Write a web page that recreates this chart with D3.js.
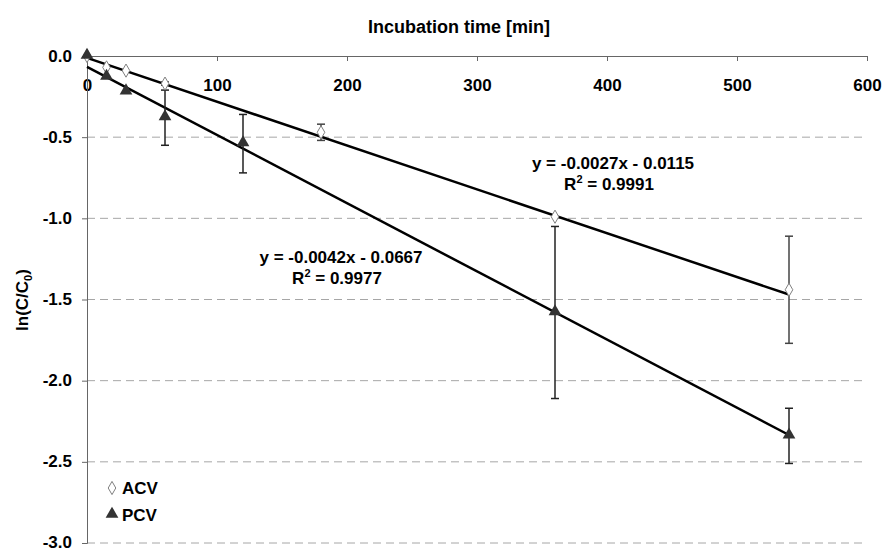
<!DOCTYPE html>
<html>
<head>
<meta charset="utf-8">
<script src="https://cdn.jsdelivr.net/npm/d3@7"></script>
<style>
  body { margin: 0; background: #fff; }
  svg { display: block; }
  text { font-family: "Liberation Sans", Arial, sans-serif; font-weight: bold; }
</style>
</head>
<body>
<div id="chart"></div>
<script>
// data
let xTicks = [0, 100, 200, 300, 400, 500, 600];
let yTicks = [0, -0.5, -1.0, -1.5, -2.0, -2.5, -3.0];

let acvTime = [0, 15, 30, 60, 180, 360, 540];
let acvMean = [0, -0.07, -0.09, -0.17, -0.47, -0.99, -1.44];
let acvErr  = [0, 0, 0, 0.01, 0.05, 0, 0.33];

let pcvTime = [0, 15, 30, 60, 120, 360, 540];
let pcvMean = [0, -0.13, -0.22, -0.38, -0.54, -1.58, -2.34];
let pcvErr  = [0, 0, 0, 0.17, 0.18, 0.53, 0.17];

// trend lines: slope, intercept
let acvFit = [-0.0027, -0.0115];
let pcvFit = [-0.0042, -0.0667];
let acvLabels = ["y = -0.0027x - 0.0115", "0.9991"];
let pcvLabels = ["y = -0.0042x - 0.0667", "0.9977"];

// set the dimensions and margins of the graph
let margin = {top: 56, right: 15, bottom: 8, left: 87},
    width = 882 - margin.left - margin.right,
    height = 551 - margin.top - margin.bottom;

let fs = 17;

let x = d3.scaleLinear().domain([0, 600]).range([0, width]);
let y = d3.scaleLinear().domain([0, -3]).range([0, height]);

let svg = d3.select("#chart").append("svg")
    .attr("width", 882)
    .attr("height", 551)
    .append("g")
    .attr("transform", "translate(" + margin.left + "," + margin.top + ")");

// dashed gridlines
svg.selectAll(".grid")
    .data(yTicks.filter(d => d !== 0))
    .enter().append("line")
    .attr("x1", 0).attr("x2", width)
    .attr("y1", d => y(d)).attr("y2", d => y(d))
    .attr("stroke", "#a6a6a6")
    .attr("stroke-dasharray", "8,5");

// x axis at top (ticks hang down, labels below)
let xAxis = svg.append("g")
    .call(d3.axisBottom(x).tickValues(xTicks).tickSize(5).tickFormat(d3.format("d")));
xAxis.select(".domain").attr("stroke", "#666");
xAxis.selectAll(".tick line").attr("stroke", "#666");
xAxis.selectAll(".tick text")
    .attr("y", 35)
    .attr("dy", null)
    .attr("font-size", fs)
    .attr("fill", "#000");

// y axis
let yAxis = svg.append("g")
    .call(d3.axisLeft(y).tickValues(yTicks).tickSize(5).tickFormat(d => d.toFixed(1)));
yAxis.select(".domain").attr("stroke", "#666");
yAxis.selectAll(".tick line").attr("stroke", "#666");
yAxis.selectAll(".tick text")
    .attr("x", -15)
    .attr("dy", d => d === -3 ? 4 : "0.3em")   // keep the bottom label inside the page
    .attr("font-size", fs)
    .attr("fill", "#000");

// axis titles
d3.select("svg").append("text")
    .attr("x", 459).attr("y", 33)
    .attr("text-anchor", "middle")
    .attr("font-size", 18)
    .text("Incubation time [min]");

let yt = d3.select("svg").append("text")
    .attr("transform", "translate(28,300) rotate(-90)")
    .attr("text-anchor", "middle")
    .attr("font-size", fs);
yt.append("tspan").text("ln(C/C");
yt.append("tspan").attr("font-size", 11).attr("dy", 4).text("0");
yt.append("tspan").attr("dy", -4).text(")");

// trend lines
[acvFit, pcvFit].forEach(function(f) {
    svg.append("line")
        .attr("x1", x(0)).attr("y1", y(f[1]))
        .attr("x2", x(540)).attr("y2", y(f[0] * 540 + f[1]))
        .attr("stroke", "#000")
        .attr("stroke-width", 2.5);
});

// error bars
function errorBars(times, means, errs, color) {
    let pts = times.map((t, i) => ({t: t, m: means[i], e: errs[i]})).filter(d => d.e > 0);
    let g = svg.append("g").attr("stroke", color).attr("stroke-width", 1.5);
    g.selectAll(".eb").data(pts).enter().append("line")
        .attr("x1", d => x(d.t)).attr("x2", d => x(d.t))
        .attr("y1", d => y(d.m + d.e)).attr("y2", d => y(d.m - d.e));
    g.selectAll(".capTop").data(pts).enter().append("line")
        .attr("x1", d => x(d.t) - 4).attr("x2", d => x(d.t) + 4)
        .attr("y1", d => y(d.m + d.e)).attr("y2", d => y(d.m + d.e));
    g.selectAll(".capBot").data(pts).enter().append("line")
        .attr("x1", d => x(d.t) - 4).attr("x2", d => x(d.t) + 4)
        .attr("y1", d => y(d.m - d.e)).attr("y2", d => y(d.m - d.e));
}
errorBars(acvTime, acvMean, acvErr, "#444");
errorBars(pcvTime, pcvMean, pcvErr, "#222");

// markers
let diamond = d3.symbol().type(d3.symbolDiamond).size(50);
let triangle = d3.symbol().type(d3.symbolTriangle).size(70);

svg.selectAll(".acv")
    .data(acvTime)
    .enter().append("path")
    .attr("d", diamond)
    .attr("transform", (d, i) => "translate(" + x(d) + "," + y(acvMean[i]) + ")")
    .attr("fill", "#fff")
    .attr("stroke", "#808080")
    .attr("stroke-width", 1);

svg.selectAll(".pcv")
    .data(pcvTime)
    .enter().append("path")
    .attr("d", triangle)
    .attr("transform", (d, i) => "translate(" + x(d) + "," + (y(pcvMean[i]) - 1) + ")")
    .attr("fill", "#333");

// equations
function eqLabel(lbl, cx, cy) {
    svg.append("text")
        .attr("x", cx).attr("y", cy)
        .attr("text-anchor", "middle")
        .attr("font-size", fs)
        .text(lbl[0]);
    let r = svg.append("text")
        .attr("x", cx - 4).attr("y", cy + 21)
        .attr("text-anchor", "middle")
        .attr("font-size", fs);
    r.append("tspan").text("R");
    r.append("tspan").attr("font-size", 11).attr("dy", -7).text("2");
    r.append("tspan").attr("dy", 7).text(" = " + lbl[1]);
}
eqLabel(acvLabels, 613 - margin.left, 169 - margin.top);
eqLabel(pcvLabels, 341 - margin.left, 263 - margin.top);

// legend
let legend = svg.append("g").attr("transform", "translate(" + (112 - margin.left) + "," + (488 - margin.top) + ")");
legend.append("path").attr("d", diamond)
    .attr("fill", "#fff").attr("stroke", "#808080");
legend.append("text").attr("x", 10).attr("y", 6).attr("font-size", fs).text("ACV");
legend.append("path").attr("d", triangle)
    .attr("transform", "translate(0,26)")
    .attr("fill", "#333");
legend.append("text").attr("x", 10).attr("y", 33).attr("font-size", fs).text("PCV");
</script>
</body>
</html>
